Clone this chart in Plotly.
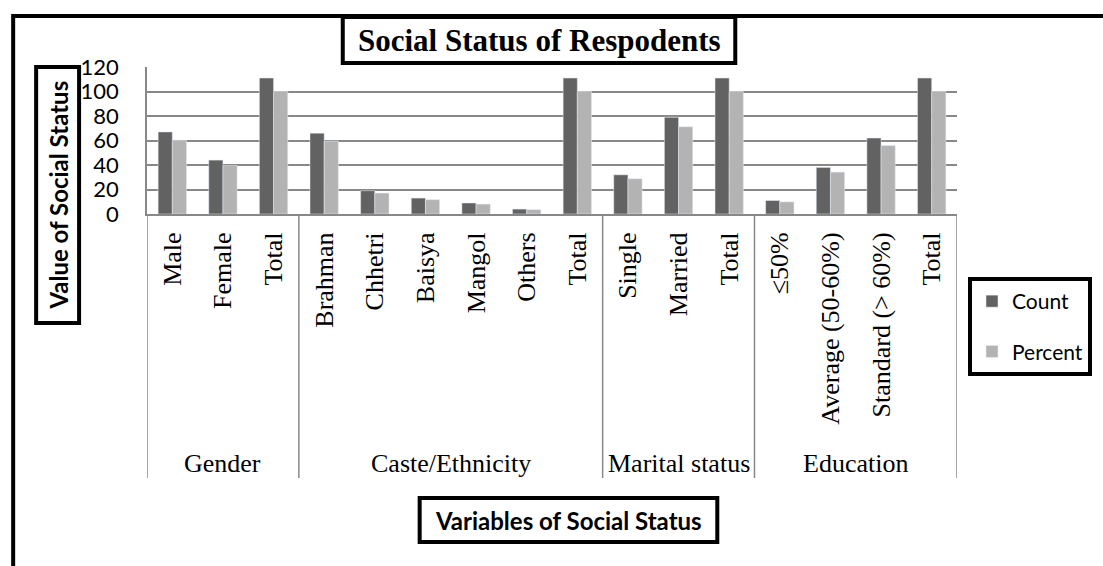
import plotly.graph_objects as go

# ---- data ----
groups = ["Gender", "Caste/Ethnicity", "Marital status", "Education"]
group_items = [
    ["Male", "Female", "Total"],
    ["Brahman", "Chhetri", "Baisya", "Mangol", "Others", "Total"],
    ["Single", "Married", "Total"],
    ["≤50%", "Average (50-60%)", "Standard (> 60%)", "Total"],
]
count_vals = [67, 44, 111, 66, 19, 13, 9, 4, 111, 32, 79, 111, 11, 38, 62, 111]
percent_vals = [60.4, 39.6, 100, 59.5, 17.1, 11.7, 8.1, 3.6, 100, 28.8, 71.2, 100, 9.9, 34.2, 55.9, 100]
y_ticks = [0, 20, 40, 60, 80, 100, 120]

# category keys (unique) and display labels
keys, labels = [], []
for g, items in zip(groups, group_items):
    for it in items:
        keys.append(g + "|" + it)
        labels.append(it)

# ---- layout geometry (pixels) ----
FW, FH = 1103, 566
L, R, T, B = 147, 958, 67, 214
W, H = R - L, B - T

def X(px):
    return (px - L) / W

def Y(py):
    return (B - py) / H

SERIF = "Liberation Serif"
SANS = "Lato"

fig = go.Figure()
fig.add_trace(go.Bar(x=keys, y=count_vals, name="Count", marker_color="#626262",
                     legendgroup="a"))
fig.add_trace(go.Bar(x=keys, y=percent_vals, name="Percent", marker_color="#b3b3b3",
                     legendgroup="b"))

shapes = []
# outer frame
shapes.append(dict(type="rect", xref="paper", yref="paper", x0=X(13), x1=X(1120),
                   y0=Y(600), y1=Y(16), line=dict(color="black", width=4)))
# title box
shapes.append(dict(type="rect", xref="paper", yref="paper", x0=X(343), x1=X(736),
                   y0=Y(63), y1=Y(17), line=dict(color="black", width=4),
                   fillcolor="white"))
# x title box
shapes.append(dict(type="rect", xref="paper", yref="paper", x0=X(420), x1=X(718),
                   y0=Y(542), y1=Y(498), line=dict(color="black", width=4),
                   fillcolor="white"))
# y title box
shapes.append(dict(type="rect", xref="paper", yref="paper", x0=X(36), x1=X(79),
                   y0=Y(323), y1=Y(67), line=dict(color="black", width=4),
                   fillcolor="white"))
# group separators
bounds = [-0.5]
n = 0
for items in group_items:
    n += len(items)
    bounds.append(n - 0.5)
for b in bounds:
    shapes.append(dict(type="line", xref="x", yref="paper", x0=b, x1=b,
                       y0=0, y1=Y(478), line=dict(color="#888888", width=1.5)))

annotations = []
annotations.append(dict(text="<b>Social Status of Respodents</b>", xref="paper", yref="paper",
                        x=X(539.5), y=Y(40), showarrow=False, xanchor="center", yanchor="middle",
                        font=dict(family=SERIF, size=31, color="black")))
annotations.append(dict(text="<b>Variables of Social Status</b>", xref="paper", yref="paper",
                        x=X(569), y=Y(520), showarrow=False, xanchor="center", yanchor="middle",
                        font=dict(family=SANS, size=24, color="black")))
annotations.append(dict(text="<b>Value of Social Status</b>", xref="paper", yref="paper",
                        x=X(57.5), y=Y(195), showarrow=False, textangle=-90,
                        xanchor="center", yanchor="middle",
                        font=dict(family=SANS, size=24, color="black")))
start = 0
for g, items in zip(groups, group_items):
    center = start + (len(items) - 1) / 2
    annotations.append(dict(text=g, xref="x", yref="paper", x=center, y=Y(463),
                            showarrow=False, xanchor="center", yanchor="middle",
                            font=dict(family=SERIF, size=26, color="black")))
    start += len(items)

fig.update_layout(
    width=FW, height=FH,
    margin=dict(l=L, r=FW - R, t=T, b=FH - B, pad=0),
    paper_bgcolor="white", plot_bgcolor="white",
    barmode="group", bargap=0.44, bargroupgap=0,
    showlegend=True,
    legend=dict(x=X(968), y=Y(277), xanchor="left", yanchor="top",
                bordercolor="black", borderwidth=4, bgcolor="white",
                font=dict(family=SANS, size=21, color="black"),
                tracegroupgap=20, traceorder="grouped"),
    shapes=shapes, annotations=annotations,
)
fig.update_xaxes(type="category", tickvals=keys, ticktext=labels, tickangle=-90,
                 tickfont=dict(family=SERIF, size=26, color="black"),
                 showline=True, linecolor="#888888", linewidth=2, ticks="",
                 showgrid=False, ticklabelstandoff=6, range=[-0.5, len(keys) - 0.5])
fig.update_yaxes(range=[0, 120], tickvals=y_ticks, showgrid=True, gridcolor="#888888",
                 gridwidth=1.5, showline=True, linecolor="#888888", linewidth=1.5,
                 zeroline=False, ticks="", ticklabelstandoff=22,
                 tickfont=dict(family=SANS, size=22, color="black"))

fig.write_html("out.html")
